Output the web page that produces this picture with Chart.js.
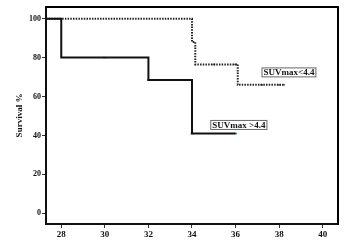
<!DOCTYPE html>
<html><head><meta charset="utf-8">
<script src="https://cdn.jsdelivr.net/npm/chart.js@4/dist/chart.umd.min.js"></script>
<style>html,body{margin:0;padding:0;background:#fff}#w{width:344px;height:242px}</style>
</head><body><div id="w"><canvas id="c"></canvas></div>
<script>
const xTicks = [28, 30, 32, 34, 36, 38, 40];
const yTicks = [0, 20, 40, 60, 80, 100];
const highTimes = [27.3, 28, 32, 34, 36];
const highSurv  = [100, 80, 68.5, 41, 41];
const lowTimes = [27.3, 34, 34.15, 36.1, 38.2];
const lowSurv  = [100, 88, 76.5, 66, 66];
const highCensorT = [30, 32, 34, 36];
const highCensorS = [80, 68.5, 41, 41];
const lowCensorT = [35, 36, 37.2, 38, 38.2];
const lowCensorS = [76.5, 76.5, 66, 66, 66];
const labels = [{text:'SUVmax<4.4', x:38.45, y:72.4}, {text:'SUVmax >4.4', x:36.15, y:45.4}];

const pts = (t, s) => t.map((v, i) => ({x: v, y: s[i]}));
const FONT = '"Liberation Serif", "DejaVu Serif", serif';

const frame = {
  id: 'frame',
  afterDraw(chart) {
    const {ctx, chartArea: a, scales} = chart;
    ctx.save();
    ctx.setLineDash([]);
    ctx.fillStyle = '#000';
    ctx.fillRect(a.left - 1, a.top - 1, a.right - a.left + 2, 2);
    ctx.fillRect(a.right - 1, a.top - 1, 2, a.bottom - a.top + 2);
    ctx.font = 'bold 9px ' + FONT;
    ctx.textAlign = 'center'; ctx.textBaseline = 'middle';
    labels.forEach(l => {
      const cx = scales.x.getPixelForValue(l.x), cy = scales.y.getPixelForValue(l.y);
      const w = ctx.measureText(l.text).width + 4, h = 10;
      ctx.fillStyle = '#fff'; ctx.fillRect(cx - w/2, cy - h/2, w, h);
      ctx.strokeStyle = '#666'; ctx.lineWidth = 1;
      ctx.strokeRect(cx - w/2 + 0.5, cy - h/2 + 0.5, w - 1, h - 1);
      ctx.fillStyle = '#111'; ctx.fillText(l.text, cx, cy + 0.5);
    });
    ctx.restore();
  }
};

new Chart(document.getElementById('c'), {
  type: 'scatter',
  data: { datasets: [
    { data: pts(highTimes, highSurv), showLine: true, stepped: 'before', borderColor: '#111', borderWidth: 2, pointRadius: 0, fill: false },
    { data: pts(lowTimes, lowSurv), showLine: true, stepped: 'before', borderColor: '#222', borderWidth: 2, borderDash: [1.5, 1.2], pointRadius: 0, fill: false },
    { data: pts(highCensorT, highCensorS), showLine: false, pointStyle: 'line', pointRadius: 1.5, borderColor: '#3a9a4a', borderWidth: 1.5 },
    { data: pts(lowCensorT, lowCensorS), showLine: false, pointStyle: 'line', pointRadius: 1.5, borderColor: '#4a5fb0', borderWidth: 1.5 }
  ]},
  options: {
    responsive: true, maintainAspectRatio: false, animation: false,
    layout: { padding: { top: 7, right: 6, left: 0, bottom: 0 } },
    plugins: { legend: { display: false }, tooltip: { enabled: false } },
    scales: {
      x: {
        type: 'linear', min: 27.3, max: 40.7,
        afterBuildTicks: s => { s.ticks = xTicks.map(v => ({value: v})); },
        afterFit: s => { s.height = 18; },
        grid: { drawOnChartArea: false, drawTicks: true, tickLength: 4, color: '#333', lineWidth: 1 },
        border: { display: true, color: '#111', width: 2 },
        ticks: { color: '#111', font: { family: FONT, size: 9, weight: 'bold' }, padding: 1, maxRotation: 0 }
      },
      y: {
        min: -5.5, max: 106,
        afterBuildTicks: s => { s.ticks = yTicks.map(v => ({value: v})); },
        afterFit: s => { s.width = 46; },
        grid: { drawOnChartArea: false, drawTicks: true, tickLength: 4, color: '#333', lineWidth: 1 },
        border: { display: true, color: '#111', width: 2 },
        ticks: { color: '#111', font: { family: FONT, size: 8, weight: 'bold' }, padding: 1 },
        title: { display: true, text: 'Survival %', color: '#111', font: { family: FONT, size: 9, weight: 'bold' }, padding: { top: 14, bottom: 0 } }
      }
    }
  },
  plugins: [frame]
});
</script></body></html>
